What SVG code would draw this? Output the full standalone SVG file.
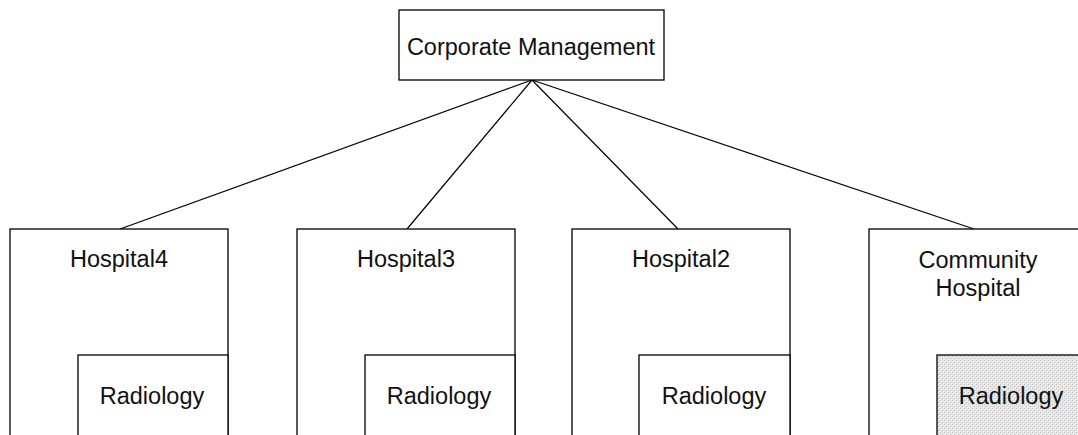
<svg xmlns="http://www.w3.org/2000/svg" width="1078" height="435" viewBox="0 0 1078 435">
<style>
.box{fill:#fff;stroke:#000;stroke-width:1.3}
.dept{fill:#fff;stroke:#000;stroke-width:1.3}
.t{font-family:"Liberation Sans",Arial,sans-serif;font-size:23.5px;fill:#111;text-anchor:middle}
.c{stroke:#000;stroke-width:1.2;fill:none}
</style>
<defs>
<pattern id="dots" width="4" height="4" patternUnits="userSpaceOnUse">
<rect width="4" height="4" fill="#e6e6e6"/>
<rect x="0" y="0" width="1" height="1" fill="#bdbdbd"/>
<rect x="2" y="2" width="1" height="1" fill="#bdbdbd"/>
<rect x="1" y="1" width="1" height="1" fill="#f4f4f4"/>
<rect x="3" y="3" width="1" height="1" fill="#f4f4f4"/>
</pattern>
</defs>
<g id="connectors">
<line class="c" x1="532" y1="80" x2="120" y2="229"/>
<line class="c" x1="532" y1="80" x2="407" y2="229"/>
<line class="c" x1="532" y1="80" x2="678" y2="229"/>
<line class="c" x1="532" y1="80" x2="974" y2="229"/>
</g>
<g id="corporate">
<rect class="box" x="399" y="10" width="265" height="70"/>
<text class="t" x="531" y="55">Corporate Management</text>
</g>
<g id="hospital4">
<rect class="box" x="10" y="229" width="218" height="220"/>
<text class="t" x="119" y="267">Hospital4</text>
</g>
<g id="radiology4">
<rect class="dept" x="78" y="355" width="150" height="100"/>
<text class="t" x="152" y="404">Radiology</text>
</g>
<g id="hospital3">
<rect class="box" x="297" y="229" width="218" height="220"/>
<text class="t" x="406" y="267">Hospital3</text>
</g>
<g id="radiology3">
<rect class="dept" x="365" y="355" width="150" height="100"/>
<text class="t" x="439" y="404">Radiology</text>
</g>
<g id="hospital2">
<rect class="box" x="572" y="229" width="218" height="220"/>
<text class="t" x="681" y="267">Hospital2</text>
</g>
<g id="radiology2">
<rect class="dept" x="639" y="355" width="151" height="100"/>
<text class="t" x="714" y="404">Radiology</text>
</g>
<g id="community">
<rect class="box" x="869" y="229" width="218" height="220"/>
<text class="t" x="978" y="268">Community</text>
<text class="t" x="978" y="296">Hospital</text>
</g>
<g id="radiology-community">
<rect class="dept" x="937" y="355" width="150" height="100" fill="url(#dots)" style="fill:url(#dots)"/>
<text class="t" x="1011" y="404">Radiology</text>
</g>
</svg>
